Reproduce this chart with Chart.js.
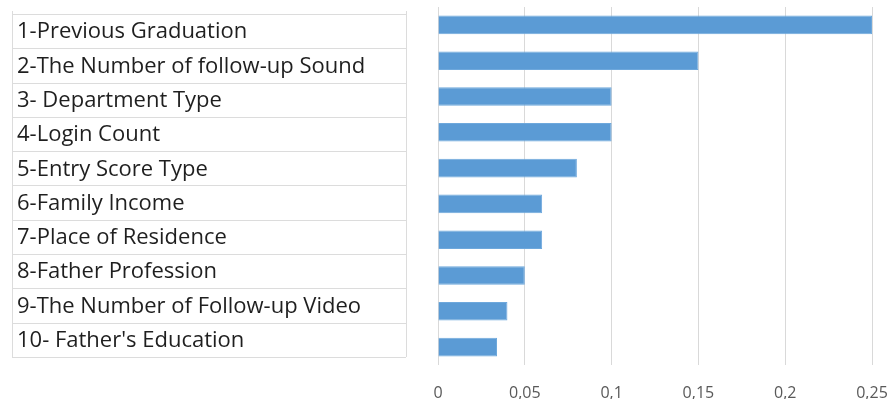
<!DOCTYPE html>
<html lang="en">
<head>
    <meta charset="UTF-8">
    <title>Feature Importance</title>
    <style>
        * { margin: 0; padding: 0; box-sizing: border-box; }
        body { background-color: #fff; width: 890px; height: 399px; overflow: hidden; }
        .wrap { position: relative; width: 890px; height: 399px; }
    </style>
    <script src="https://cdn.jsdelivr.net/npm/chart.js"></script>
</head>
<body>
    <div class="wrap">
        <canvas id="importanceChart"></canvas>
    </div>

    <script>
        // features, top to bottom
        const features = [
            '1-Previous Graduation',
            '2-The Number of follow-up Sound',
            '3- Department Type',
            '4-Login Count',
            '5-Entry Score Type',
            '6-Family Income',
            '7-Place of Residence',
            '8-Father Profession',
            '9-The Number of Follow-up Video',
            "10- Father's Education"
        ];
        const importance = [0.25, 0.15, 0.1, 0.1, 0.08, 0.06, 0.06, 0.05, 0.04, 0.034];
        const xTicks = [0, 0.05, 0.1, 0.15, 0.2, 0.25];

        // the label table on the left is a little tighter than the bar rows
        const tableShift = 7;
        const tableRowScale = 0.958;

        const labelTable = {
            id: 'labelTable',
            afterDraw(chart) {
                const y = chart.scales.y;
                const ctx = chart.ctx;
                const labels = chart.data.labels;
                const rowH = (y.bottom - y.top) / labels.length * tableRowScale;
                const left = 12, right = 406;
                const top = y.top + tableShift;
                const bottom = top + rowH * labels.length;
                ctx.save();
                ctx.strokeStyle = '#dcdcdc';
                ctx.lineWidth = 1;
                ctx.beginPath();
                for (let i = 0; i <= labels.length; i++) {
                    const py = Math.round(top + i * rowH) + 0.5;
                    ctx.moveTo(left, py);
                    ctx.lineTo(right, py);
                }
                ctx.moveTo(left + 0.5, top - 3);
                ctx.lineTo(left + 0.5, bottom);
                ctx.moveTo(right + 0.5, top - 3);
                ctx.lineTo(right + 0.5, bottom);
                ctx.stroke();

                ctx.fillStyle = '#1f1f1f';
                ctx.font = '22px "Open Sans"';
                ctx.textAlign = 'left';
                ctx.textBaseline = 'middle';
                labels.forEach((lab, i) => {
                    ctx.fillText(lab, 17, top + (i + 0.5) * rowH + 1);
                });
                ctx.restore();
            }
        };

        new Chart(document.getElementById('importanceChart'), {
            type: 'bar',
            data: {
                labels: features,
                datasets: [{
                    data: importance,
                    backgroundColor: '#5b9bd5',
                    borderColor: '#6ea8dc',
                    borderWidth: 1,
                    categoryPercentage: 1,
                    barPercentage: 0.52
                }]
            },
            options: {
                indexAxis: 'y',
                responsive: true,
                maintainAspectRatio: false,
                animation: false,
                layout: { padding: { left: 17, right: 18, top: 7, bottom: 0 } },
                plugins: { legend: { display: false }, tooltip: { enabled: false } },
                scales: {
                    x: {
                        min: 0,
                        max: 0.25,
                        afterBuildTicks: axis => { axis.ticks = xTicks.map(v => ({ value: v })); },
                        afterFit: axis => {
                            axis.height = 34;
                            axis.paddingLeft = 0;
                            axis.paddingRight = 0;
                        },
                        grid: { color: '#d9d9d9', drawTicks: false },
                        border: { display: false },
                        ticks: {
                            padding: 19,
                            color: '#595959',
                            font: { family: 'Open Sans', size: 16 },
                            callback: v => String(v).replace('.', ',')
                        }
                    },
                    y: {
                        afterFit: axis => {
                            axis.width = 421;
                            axis.paddingTop = 0;
                            axis.paddingBottom = 0;
                        },
                        grid: { display: false, drawTicks: false },
                        border: { display: false },
                        ticks: { display: false }
                    }
                }
            },
            plugins: [labelTable]
        });
    </script>
</body>
</html>
